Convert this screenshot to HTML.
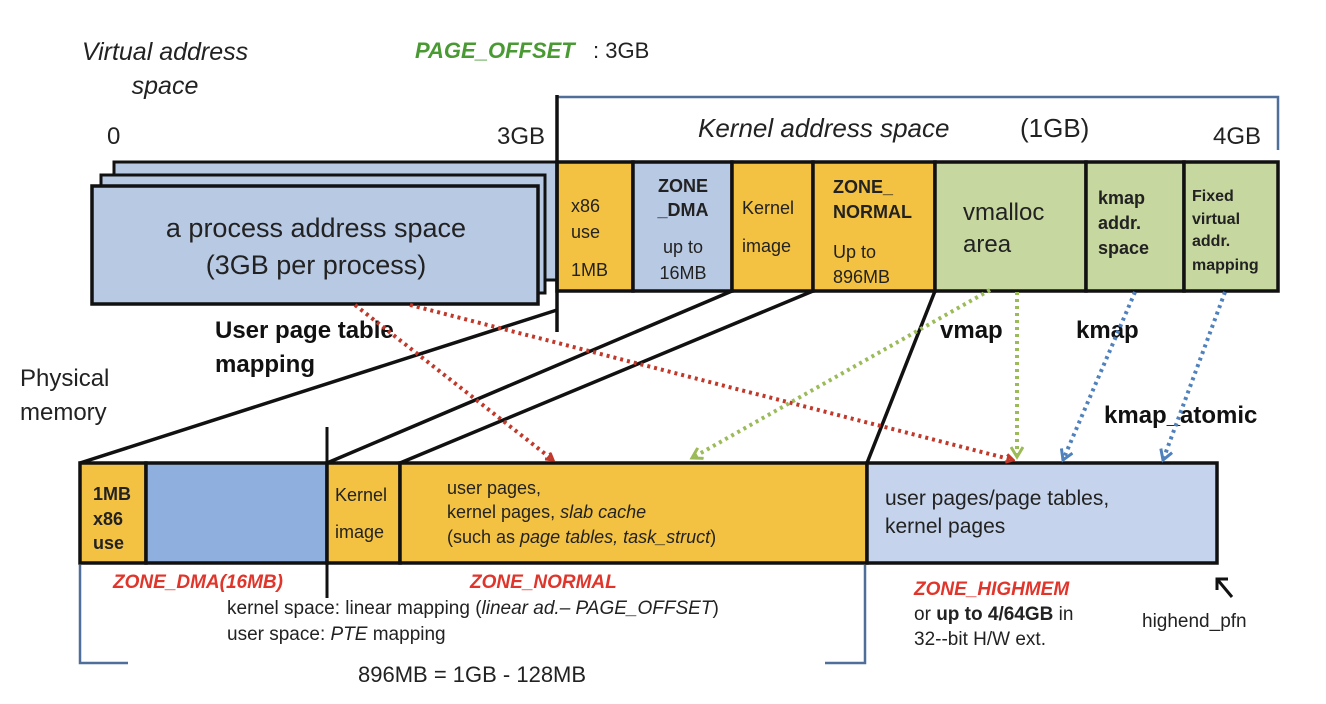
<!DOCTYPE html>
<html><head><meta charset="utf-8"><style>
body{margin:0;background:#fff;}
svg{display:block;font-family:"Liberation Sans",Arial,sans-serif;}
</style></head><body>
<svg width="1326" height="704" viewBox="0 0 1326 704" xmlns="http://www.w3.org/2000/svg">
<defs>
<marker id="ar" markerWidth="10" markerHeight="10" refX="8" refY="5" orient="auto" markerUnits="userSpaceOnUse"><path d="M1,1 L8,5 L1,9" fill="none" stroke="#c0392b" stroke-width="3"/></marker>
<marker id="ag" markerWidth="14" markerHeight="14" refX="11" refY="7" orient="auto" markerUnits="userSpaceOnUse"><path d="M1,1 L11,7 L1,13" fill="none" stroke="#9bbb59" stroke-width="3"/></marker>
<marker id="ab" markerWidth="14" markerHeight="14" refX="11" refY="7" orient="auto" markerUnits="userSpaceOnUse"><path d="M1,1 L11,7 L1,13" fill="none" stroke="#4f81bd" stroke-width="3"/></marker>
</defs>
<!-- top labels -->
<text x="165" y="60" font-size="25" font-style="italic" text-anchor="middle" fill="#222">Virtual address</text>
<text x="165" y="94" font-size="25" font-style="italic" text-anchor="middle" fill="#222">space</text>
<text x="415" y="58" font-size="22" font-weight="bold" font-style="italic" fill="#4a9a34">PAGE_OFFSET</text>
<text x="593" y="58" font-size="22" fill="#222">: 3GB</text>
<polyline points="557,97 1278,97 1278,150" fill="none" stroke="#4f6f9a" stroke-width="2.5"/>
<text x="698" y="137" font-size="26" font-style="italic" fill="#222">Kernel address space</text>
<text x="1020" y="137" font-size="26" fill="#222">(1GB)</text>
<text x="107" y="144" font-size="24" fill="#222">0</text>
<text x="497" y="144" font-size="24" fill="#222">3GB</text>
<text x="1213" y="144" font-size="24" fill="#222">4GB</text>
<!-- process stack -->
<rect x="114" y="162" width="443" height="118" fill="#b8c9e4" stroke="#111" stroke-width="3"/>
<rect x="101" y="175" width="444" height="118" fill="#b8c9e4" stroke="#111" stroke-width="3"/>
<rect x="92" y="186" width="446" height="118" fill="#b8c9e4" stroke="#111" stroke-width="3.5"/>
<text x="316" y="237" font-size="27" text-anchor="middle" fill="#222">a process address space</text>
<text x="316" y="274" font-size="27" text-anchor="middle" fill="#222">(3GB per process)</text>
<!-- top bar -->
<g stroke="#111" stroke-width="3.5">
<rect x="557" y="162" width="76" height="129" fill="#f4c242"/>
<rect x="633" y="162" width="99" height="129" fill="#b8c9e4"/>
<rect x="732" y="162" width="81" height="129" fill="#f4c242"/>
<rect x="813" y="162" width="122" height="129" fill="#f4c242"/>
<rect x="935" y="162" width="151" height="129" fill="#c6d79f"/>
<rect x="1086" y="162" width="98" height="129" fill="#c6d79f"/>
<rect x="1184" y="162" width="94" height="129" fill="#c6d79f"/>
</g>
<g font-size="18" fill="#222">
<text x="571" y="212">x86</text><text x="571" y="238">use</text><text x="571" y="276">1MB</text>
<text x="683" y="192" text-anchor="middle" font-weight="bold">ZONE</text><text x="683" y="216" text-anchor="middle" font-weight="bold">_DMA</text>
<text x="683" y="253" text-anchor="middle">up to</text><text x="683" y="279" text-anchor="middle">16MB</text>
<text x="742" y="214">Kernel</text><text x="742" y="252">image</text>
<text x="833" y="193" font-weight="bold">ZONE_</text><text x="833" y="218" font-weight="bold">NORMAL</text>
<text x="833" y="258">Up to</text><text x="833" y="283">896MB</text>
<text x="963" y="220" font-size="24">vmalloc</text><text x="963" y="252" font-size="24">area</text>
<text x="1098" y="204" font-weight="bold">kmap</text><text x="1098" y="229" font-weight="bold">addr.</text><text x="1098" y="254" font-weight="bold">space</text>
<text x="1192" y="201" font-size="16" font-weight="bold">Fixed</text><text x="1192" y="224" font-size="16" font-weight="bold">virtual</text><text x="1192" y="246" font-size="16" font-weight="bold">addr.</text><text x="1192" y="270" font-size="16" font-weight="bold">mapping</text>
</g>
<!-- mapping lines -->
<g stroke="#111" stroke-width="3.5" fill="none">
<line x1="557" y1="95" x2="557" y2="332"/>
<line x1="557" y1="310" x2="80" y2="463"/>
<line x1="732" y1="291" x2="327" y2="463"/>
<line x1="813" y1="291" x2="400" y2="463"/>
<line x1="935" y1="291" x2="867" y2="463"/>
<line x1="327" y1="427" x2="327" y2="598" stroke-width="3"/>
</g>
<text x="215" y="338" font-size="24" font-weight="bold" fill="#111">User page table</text>
<text x="215" y="372" font-size="24" font-weight="bold" fill="#111">mapping</text>
<text x="20" y="386" font-size="24" fill="#222">Physical</text>
<text x="20" y="420" font-size="24" fill="#222">memory</text>
<text x="940" y="338" font-size="24" font-weight="bold" fill="#111">vmap</text>
<text x="1076" y="338" font-size="24" font-weight="bold" fill="#111">kmap</text>
<text x="1104" y="423" font-size="24" font-weight="bold" fill="#111">kmap_atomic</text>
<!-- bottom bar -->
<g stroke="#111" stroke-width="3.5">
<rect x="80" y="463" width="66" height="100" fill="#f4c242"/>
<rect x="146" y="463" width="181" height="100" fill="#8fb0de"/>
<rect x="327" y="463" width="73" height="100" fill="#f4c242"/>
<rect x="400" y="463" width="467" height="100" fill="#f4c242"/>
<rect x="867" y="463" width="350" height="100" fill="#c5d4ec"/>
</g>
<g font-size="18" fill="#222">
<text x="93" y="500" font-weight="bold">1MB</text><text x="93" y="525" font-weight="bold">x86</text><text x="93" y="549" font-weight="bold">use</text>
<text x="335" y="501">Kernel</text><text x="335" y="538">image</text>
<text x="447" y="494">user pages,</text>
<text x="447" y="518">kernel pages, <tspan font-style="italic">slab cache</tspan></text>
<text x="447" y="543">(such as <tspan font-style="italic">page tables, task_struct</tspan>)</text>
<text x="885" y="505" font-size="21">user pages/page tables,</text>
<text x="885" y="533" font-size="21">kernel pages</text>
</g>
<!-- dotted arrows -->
<g fill="none" stroke-width="4" stroke-dasharray="3,4">
<line x1="355" y1="305" x2="553" y2="460" stroke="#c0392b" marker-end="url(#ar)"/>
<line x1="410" y1="305" x2="1013" y2="460" stroke="#c0392b" marker-end="url(#ar)"/>
<line x1="990" y1="290" x2="692" y2="458" stroke="#9bbb59" marker-end="url(#ag)"/>
<line x1="1017" y1="292" x2="1017" y2="457" stroke="#9bbb59" marker-end="url(#ag)"/>
<line x1="1135" y1="292" x2="1063" y2="460" stroke="#4f81bd" marker-end="url(#ab)"/>
<line x1="1225" y1="292" x2="1163" y2="460" stroke="#4f81bd" marker-end="url(#ab)"/>
</g>
<!-- brackets -->
<polyline points="80,565 80,663 128,663" fill="none" stroke="#4f6f9a" stroke-width="2.5"/>
<polyline points="865,565 865,663 825,663" fill="none" stroke="#4f6f9a" stroke-width="2.5"/>
<g font-size="19" fill="#222">
<text x="113" y="588" font-weight="bold" font-style="italic" fill="#e0352b">ZONE_DMA(16MB)</text>
<text x="470" y="588" font-weight="bold" font-style="italic" fill="#e0352b">ZONE_NORMAL</text>
<text x="227" y="614">kernel space: linear mapping (<tspan font-style="italic">linear ad.– PAGE_OFFSET</tspan>)</text>
<text x="227" y="640">user space: <tspan font-style="italic">PTE</tspan> mapping</text>
<text x="358" y="682" font-size="22">896MB = 1GB - 128MB</text>
<text x="914" y="595" font-weight="bold" font-style="italic" fill="#e0352b">ZONE_HIGHMEM</text>
<text x="914" y="620">or <tspan font-weight="bold">up to 4/64GB</tspan> in</text>
<text x="914" y="645">32--bit H/W ext.</text>
<text x="1142" y="627">highend_pfn</text>
</g>
<line x1="1232" y1="597" x2="1217" y2="579" stroke="#111" stroke-width="3"/>
<polyline points="1217,590 1217,579 1228,579" fill="none" stroke="#111" stroke-width="3"/>
</svg>
</body></html>
